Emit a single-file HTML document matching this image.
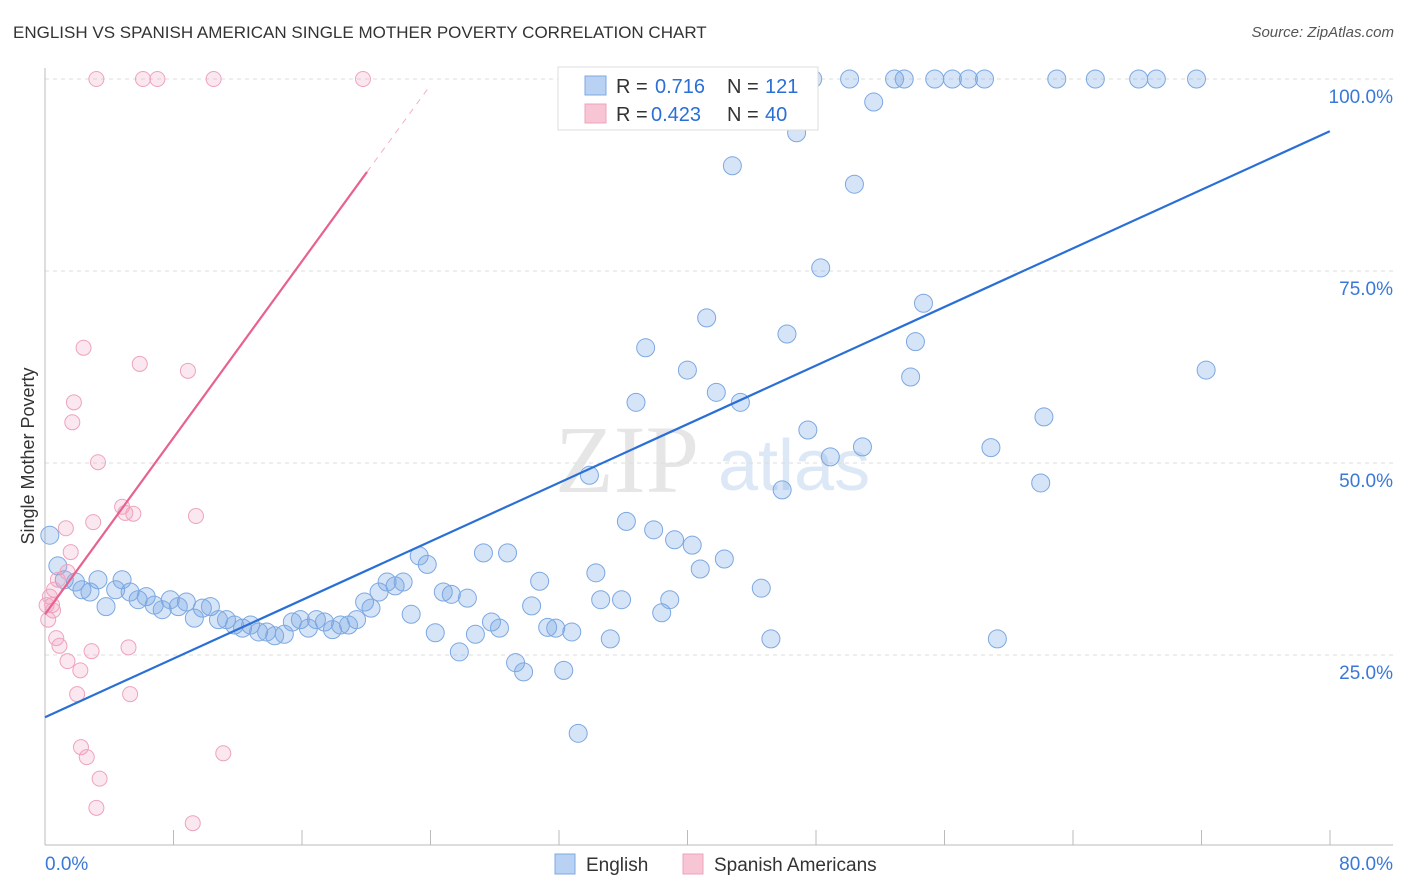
<!DOCTYPE html>
<html><head><meta charset="utf-8"><style>
body{margin:0;background:#fff;font-family:"Liberation Sans",sans-serif;}
#wrap{position:relative;width:1406px;height:892px;overflow:hidden;}
.t{position:absolute;white-space:nowrap;}
</style></head><body>
<div id="wrap">
<div class="t" style="left:13px;top:23px;font-size:17px;color:#333;">ENGLISH VS SPANISH AMERICAN SINGLE MOTHER POVERTY CORRELATION CHART</div>
<div class="t" style="right:12px;top:24px;font-size:15px;color:#555;font-style:italic;">Source: ZipAtlas.com</div>
<svg id="svg" width="1406" height="892" style="position:absolute;left:0;top:0"></svg>
</div>
<script>
const xTicks=[0,10,20,30,40,50,60,70,80];
const yTicks=[25,50,75,100];
const englishX=[0.3,0.8,1.2,1.9,2.3,2.8,3.3,3.8,4.4,4.8,5.3,5.8,6.3,6.8,7.3,7.8,8.3,8.8,9.3,9.8,10.3,10.8,11.3,11.8,12.3,12.8,13.3,13.8,14.3,14.9,15.4,15.9,16.4,16.9,17.4,17.9,18.4,18.9,19.4,19.9,20.3,20.8,21.3,21.8,22.3,22.8,23.3,23.8,24.3,24.8,25.3,25.8,26.3,26.8,27.3,27.8,28.3,28.8,29.3,29.8,30.3,30.8,31.3,31.8,32.3,32.8,33.2,33.9,34.3,34.6,35.2,35.9,36.2,36.8,37.4,37.9,38.4,38.9,39.2,40.0,40.3,40.8,41.2,41.8,42.3,42.8,43.3,43.6,44.2,44.6,45.2,45.9,46.2,46.8,47.5,47.8,48.3,48.9,50.1,50.4,50.9,51.6,52.9,53.5,53.9,54.2,54.7,55.4,56.5,57.5,58.5,58.9,59.3,62.0,62.2,63.0,65.4,68.1,69.2,71.7,72.3];
const englishY=[40.6,36.6,34.8,34.5,33.5,33.2,34.8,31.3,33.5,34.8,33.2,32.2,32.6,31.5,30.9,32.2,31.3,31.9,29.8,31.1,31.3,29.6,29.6,28.9,28.5,28.9,28.0,28.0,27.5,27.7,29.3,29.6,28.5,29.6,29.3,28.3,28.9,28.9,29.6,31.9,31.1,33.2,34.5,34.0,34.5,30.3,37.9,36.8,27.9,33.2,32.9,25.4,32.4,27.7,38.3,29.3,28.5,38.3,24.0,22.8,31.4,34.6,28.6,28.5,23.0,28.0,14.8,48.4,35.7,32.2,27.1,32.2,42.4,57.9,65.0,41.3,30.5,32.2,40.0,62.1,39.3,36.2,68.9,59.2,37.5,88.7,57.9,100,100,33.7,27.1,46.5,66.8,93.0,54.3,100,75.4,50.8,100,86.3,52.1,97.0,100,100,61.2,65.8,70.8,100,100,100,100,52.0,27.1,47.4,56.0,100,100,100,100,100,62.1];
const spanishX=[3.2,6.1,7.0,10.5,19.8,2.4,5.9,8.9,1.8,1.7,3.3,4.8,5.0,5.5,9.4,1.3,3.0,1.6,1.4,0.8,0.56,0.3,0.44,0.2,0.7,0.9,5.2,2.9,1.4,2.2,2.0,5.3,2.24,2.6,11.1,3.4,3.2,9.2,0.1,0.5];
const spanishY=[100,100,100,100,100,65.0,62.9,62.0,57.9,55.3,50.1,44.3,43.5,43.4,43.1,41.5,42.3,38.4,35.8,34.8,33.5,32.6,31.5,29.6,27.2,26.2,26.0,25.5,24.2,23.0,19.9,19.9,13.0,11.7,12.2,8.9,5.1,3.1,31.5,30.8];
const englishLine=[[0,16.9],[80,93.2]];
const spanishLine=[[0,30.3],[20.05,87.9]];
const spanishDash=[[20.05,87.9],[24,99.2]];
const X=v=>45+v*16.06, Y=v=>847-v*7.68;
const svg=document.getElementById('svg');const NS='http://www.w3.org/2000/svg';
function mk(tag,attrs,name,parent){const e=document.createElementNS(NS,tag);for(const k in attrs)e.setAttribute(k,attrs[k]);


(parent||svg).appendChild(e);return e;}
// watermark
let w=mk('text',{x:555,y:492,'font-size':96,'font-family':'Liberation Serif,serif',fill:'#e6e6e6'},'watermark-zip');w.textContent='ZIP';
w=mk('text',{x:718,y:490,'font-size':72,'font-family':'Liberation Sans,sans-serif',fill:'#dce8f6'},'watermark-atlas');w.textContent='atlas';
yTicks.forEach(t=>{mk('line',{x1:45,x2:1393,y1:Y(t),y2:Y(t),stroke:'#ddd','stroke-dasharray':'4,4'},'gridline');
const l=mk('text',{x:1393,y:Y(t)+24,'text-anchor':'end','font-size':19,fill:'#3a78d8'},'y-tick-label');l.textContent=t.toFixed(1)+'%';});
mk('line',{x1:45,x2:45,y1:68,y2:845,stroke:'#bbb'},'y-axis');
mk('line',{x1:45,x2:1393,y1:845,y2:845,stroke:'#bbb'},'x-axis');
for(let i=0;i<=10;i++){mk('line',{x1:45+i*128.5,x2:45+i*128.5,y1:830,y2:845,stroke:'#bbb'},'x-tick');}
let t=mk('text',{x:45,y:870,'font-size':19,fill:'#3a78d8'},'x-tick-label');t.textContent='0.0%';
t=mk('text',{x:1393,y:870,'text-anchor':'end','font-size':19,fill:'#3a78d8'},'x-tick-label');t.textContent='80.0%';
t=mk('text',{x:34,y:456,'font-size':18,fill:'#333','text-anchor':'middle',transform:'rotate(-90 34 456)'},'y-axis-title');t.textContent='Single Mother Poverty';
englishX.forEach((x,i)=>mk('circle',{cx:X(x),cy:Y(englishY[i]),r:9,fill:'rgba(120,165,230,0.3)',stroke:'#7ca8e2','stroke-width':1},'english-point'));
spanishX.forEach((x,i)=>mk('circle',{cx:X(x),cy:Y(spanishY[i]),r:7.5,fill:'rgba(240,160,190,0.25)',stroke:'#eea3bc','stroke-width':1},'spanish-point'));
mk('line',{x1:X(englishLine[0][0]),y1:Y(englishLine[0][1]),x2:X(englishLine[1][0]),y2:Y(englishLine[1][1]),stroke:'#2a6fd6','stroke-width':2.2},'english-trendline');
mk('line',{x1:X(spanishLine[0][0]),y1:Y(spanishLine[0][1]),x2:X(spanishLine[1][0]),y2:Y(spanishLine[1][1]),stroke:'#e8628f','stroke-width':2.2},'spanish-trendline');
mk('line',{x1:X(spanishDash[0][0]),y1:Y(spanishDash[0][1]),x2:X(spanishDash[1][0]),y2:Y(spanishDash[1][1]),stroke:'#f0b0c4','stroke-width':1,'stroke-dasharray':'6,6'},'spanish-trendline-ext');
// legend
const g=mk('g',{},'legend');
mk('rect',{x:558,y:67,width:260,height:63,fill:'#fff',stroke:'#ddd'},'legend-box',g);
mk('rect',{x:585,y:76,width:21,height:19,fill:'#b9d2f3',stroke:'#7ca8e2'},'legend-english-swatch',g);
mk('rect',{x:585,y:104,width:21,height:19,fill:'#f8c5d5',stroke:'#eea3bc'},'legend-spanish-swatch',g);
function lt(x,y,s,c,n){const e=mk('text',{x:x,y:y,'font-size':20,fill:c},n,g);e.textContent=s;}
lt(616,93,'R =','#333','legend-r-label');lt(655,93,'0.716','#2a6fd6','legend-r-english');lt(727,93,'N =','#333','legend-n-label');lt(765,93,'121','#2a6fd6','legend-n-english');
lt(616,121,'R =','#333','legend-r-label');lt(651,121,'0.423','#2a6fd6','legend-r-spanish');lt(727,121,'N =','#333','legend-n-label');lt(765,121,'40','#2a6fd6','legend-n-spanish');
mk('rect',{x:555,y:854,width:20,height:20,fill:'#b9d2f3',stroke:'#7ca8e2'},'bottom-legend-english-swatch');
t=mk('text',{x:586,y:871,'font-size':19,fill:'#333'},'bottom-legend-english');t.textContent='English';
mk('rect',{x:683,y:854,width:20,height:20,fill:'#f8c5d5',stroke:'#eea3bc'},'bottom-legend-spanish-swatch');
t=mk('text',{x:714,y:871,'font-size':19,fill:'#333'},'bottom-legend-spanish');t.textContent='Spanish Americans';
</script>
</body></html>
